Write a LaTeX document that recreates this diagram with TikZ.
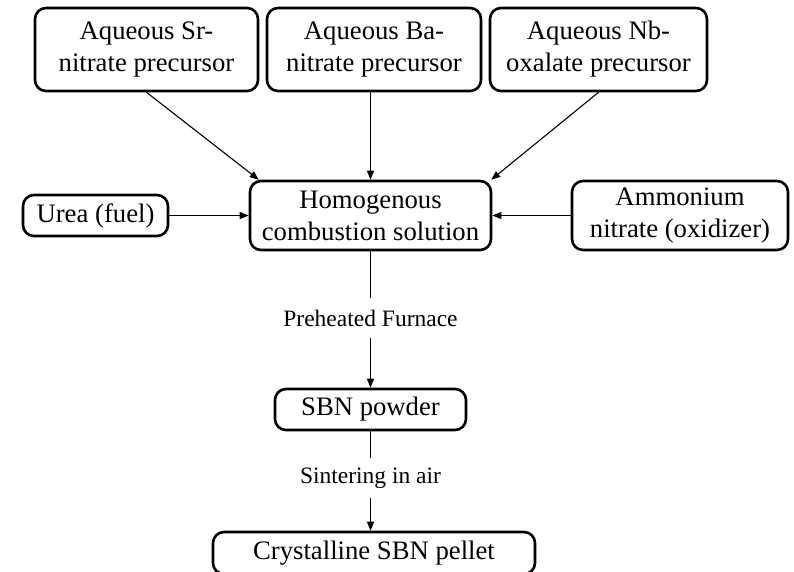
\documentclass[tikz,border=0pt]{standalone}
\usepackage{fontspec}
\setmainfont{Liberation Serif}
\usetikzlibrary{arrows.meta,calc}
\begin{document}
\begin{tikzpicture}[x=1pt,y=-1pt,
  box/.style={draw, line width=2.6pt, rounded corners=11pt, align=center,
    inner sep=0pt, font=\fontsize{26.7}{32}\selectfont},
  lbl/.style={inner sep=0pt, minimum height=40pt, font=\fontsize{23.5}{28}\selectfont},
  arr/.style={line width=1.1pt, -{Triangle[length=9pt,width=7pt]}},
  ln/.style={line width=1.1pt}]
\useasboundingbox (0,0) rectangle (794,571);
\node[box, minimum width=223pt, minimum height=83pt] (Sr) at (146.5,49.5) {Aqueous Sr-\\nitrate precursor};
\node[box, minimum width=214pt, minimum height=83pt] (Ba) at (374,49.5) {Aqueous Ba-\\nitrate precursor};
\node[box, minimum width=217pt, minimum height=83pt] (Nb) at (598.5,49.5) {Aqueous Nb-\\oxalate precursor};
\node[box, minimum width=241pt, minimum height=69pt] (H) at (370.5,215.5) {Homogenous\\combustion solution};
\node[box, minimum width=145pt, minimum height=41pt] (U) at (95.5,215.5) {Urea (fuel)};
\node[box, minimum width=216pt, minimum height=69pt] (A) at (680,215.5) {Ammonium\\nitrate (oxidizer)};
\node[box, minimum width=191pt, minimum height=41pt] (P) at (370.5,409.5) {SBN powder};
\node[box, minimum width=322pt, minimum height=42pt] (C) at (374,553) {Crystalline SBN pellet};
\node[lbl] (L1) at (370.5,318) {Preheated Furnace};
\node[lbl] (L2) at (370.5,478) {Sintering in air};
\draw[arr] (Sr.south) -- ($(H.north west)+(10,0)$);
\draw[arr] (Ba.south -| H.north) -- (H.north);
\draw[arr] (Nb.south) -- ($(H.north east)+(-1,0)$);
\draw[arr] (U.east) -- (H.west);
\draw[arr] (A.west) -- (H.east);
\draw[ln] (H.south) -- (L1.north);
\draw[arr] (L1.south) -- (P.north);
\draw[ln] (P.south) -- (L2.north);
\draw[arr] (L2.south) -- (C.north -| P.south);
\end{tikzpicture}
\end{document}
